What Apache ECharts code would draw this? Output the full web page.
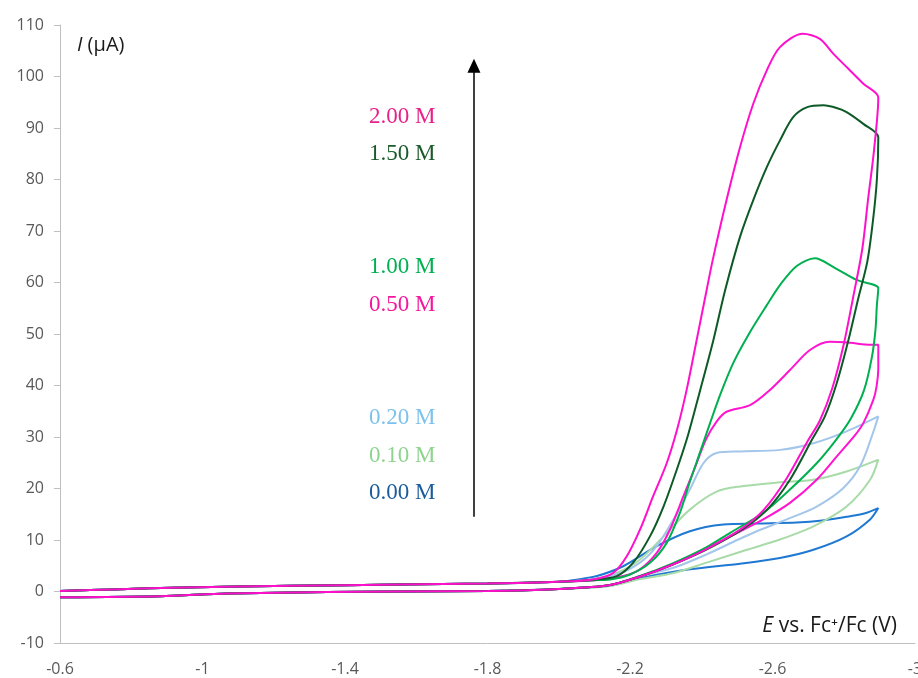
<!DOCTYPE html>
<html>
<head>
<meta charset="utf-8">
<script src="https://cdn.jsdelivr.net/npm/echarts@6/dist/echarts.min.js"></script>
<style>
  html, body { margin: 0; padding: 0; background: #ffffff; overflow: hidden; }
  #chart { width: 918px; height: 678px; }
</style>
</head>
<body>
<div id="chart"></div>
<script>
// Cyclic voltammograms at increasing concentration: potential E (V vs. Fc+/Fc), current I (µA)
const concentrations = ['0.00 M', '0.10 M', '0.20 M', '0.50 M', '1.00 M', '1.50 M', '2.00 M'];
const lineColors  = ['#1f78d2', '#a8dba8', '#a3c6ea', '#ff14cf', '#00b050', '#0d5a27', '#ff10cc'];
const labelColors = ['#1b5c9a', '#8fd38f', '#7cc2ec', '#f4169c', '#00b050', '#1b5a2b', '#e8208a'];

// Flat region shared by all scans (forward start, reverse end)
const sweepStart = [[-0.6, 0.1], [-0.75, 0.4], [-0.95, 0.8], [-1.25, 1.1], [-1.55, 1.35], [-1.8, 1.55], [-2.0, 1.9]];
const sweepEnd   = [[-2.0, 0.5], [-1.8, 0.1], [-1.55, 0.0], [-1.35, -0.1], [-1.07, -0.4], [-0.88, -0.9], [-0.6, -1.1]];

// 0.00 M
const fwd000 = [[-2.05, 2.3], [-2.107, 3.0], [-2.181, 4.9], [-2.275, 8.8], [-2.368, 11.7], [-2.462, 13.0], [-2.56, 13.2], [-2.668, 13.4], [-2.74, 13.8], [-2.808, 14.5], [-2.86, 15.2], [-2.897, 16.2]];
const rev000 = [[-2.874, 14.0], [-2.808, 10.7], [-2.715, 8.1], [-2.621, 6.5], [-2.509, 5.4], [-2.368, 4.3], [-2.228, 2.6], [-2.14, 1.1]];
// 0.10 M
const fwd010 = [[-2.08, 2.2], [-2.163, 3.6], [-2.228, 6.2], [-2.294, 10.7], [-2.368, 15.9], [-2.443, 19.4], [-2.509, 20.4], [-2.621, 21.2], [-2.715, 21.7], [-2.808, 23.3], [-2.897, 25.6]];
const rev010 = [[-2.874, 21.7], [-2.808, 16.5], [-2.715, 12.65], [-2.621, 10.1], [-2.528, 8.1], [-2.415, 5.6], [-2.322, 3.6], [-2.228, 2.4], [-2.14, 1.0]];
// 0.20 M
const fwd020 = [[-2.08, 2.3], [-2.163, 3.3], [-2.228, 5.6], [-2.275, 8.8], [-2.322, 14.0], [-2.368, 19.8], [-2.406, 24.9], [-2.443, 26.9], [-2.509, 27.2], [-2.621, 27.5], [-2.715, 28.8], [-2.808, 31.1], [-2.897, 34.0]];
const rev020 = [[-2.885, 31.4], [-2.848, 24.6], [-2.799, 20.1], [-2.724, 16.5], [-2.64, 14.0], [-2.556, 11.7], [-2.495, 9.8], [-2.415, 7.2], [-2.322, 4.6], [-2.228, 3.0], [-2.14, 1.2]];
// 0.50 M
const fwd050 = [[-2.1, 2.2], [-2.181, 3.0], [-2.228, 4.3], [-2.275, 7.5], [-2.312, 12.0], [-2.35, 18.5], [-2.387, 24.9], [-2.413, 29.5], [-2.443, 33.0], [-2.471, 34.9], [-2.537, 36.2], [-2.593, 39.15], [-2.649, 43.0], [-2.705, 46.9], [-2.761, 48.5], [-2.818, 48.3], [-2.874, 47.9], [-2.897, 47.9]];
const rev050 = [[-2.897, 43.5], [-2.892, 39.8], [-2.883, 37.2], [-2.855, 32.7], [-2.83, 30.2], [-2.78, 26.2], [-2.724, 21.7], [-2.649, 17.2], [-2.574, 14.0], [-2.481, 10.7], [-2.41, 8.1], [-2.318, 5.2], [-2.228, 2.9], [-2.14, 1.2]];
// 1.00 M
const fwd100 = [[-2.1, 2.2], [-2.144, 2.33], [-2.2, 3.3], [-2.256, 5.56], [-2.303, 9.44], [-2.34, 15.25], [-2.368, 21.3], [-2.397, 27.1], [-2.425, 32.75], [-2.453, 38.2], [-2.49, 44.4], [-2.537, 50.4], [-2.584, 55.6], [-2.621, 59.5], [-2.668, 63.2], [-2.719, 64.7], [-2.771, 63.0], [-2.836, 60.5], [-2.897, 58.9]];
const rev100 = [[-2.893, 55.6], [-2.889, 50.8], [-2.879, 45.5], [-2.857, 39.1], [-2.82, 33.6], [-2.78, 29.6], [-2.724, 24.9], [-2.649, 19.8], [-2.574, 15.3], [-2.481, 11.4], [-2.41, 8.4], [-2.318, 5.4], [-2.228, 3.0], [-2.14, 1.2]];
// 1.50 M
const fwd150 = [[-2.1, 2.3], [-2.163, 3.0], [-2.209, 5.6], [-2.256, 10.7], [-2.294, 16.5], [-2.331, 23.6], [-2.363, 30.4], [-2.397, 39.1], [-2.434, 48.8], [-2.467, 58.5], [-2.509, 68.9], [-2.546, 76.0], [-2.584, 82.4], [-2.621, 87.6], [-2.658, 92.1], [-2.696, 94.0], [-2.743, 94.4], [-2.78, 93.9], [-2.808, 93.1], [-2.855, 90.8], [-2.897, 88.2]];
const rev150 = [[-2.893, 80.0], [-2.882, 72.0], [-2.866, 64.0], [-2.841, 57.0], [-2.813, 48.8], [-2.78, 40.4], [-2.747, 34.0], [-2.711, 29.5], [-2.649, 21.7], [-2.585, 15.9], [-2.514, 12.0], [-2.413, 8.1], [-2.318, 5.2], [-2.228, 2.9], [-2.14, 1.2]];
// 2.00 M
const fwd200 = [[-2.1, 2.4], [-2.153, 3.62], [-2.191, 6.84], [-2.228, 12.0], [-2.265, 18.5], [-2.303, 24.9], [-2.332, 31.4], [-2.359, 39.15], [-2.387, 48.8], [-2.415, 58.5], [-2.432, 64.3], [-2.471, 76.0], [-2.509, 86.3], [-2.546, 94.7], [-2.584, 101.2], [-2.621, 105.7], [-2.685, 108.3], [-2.733, 107.3], [-2.771, 104.4], [-2.813, 101.5], [-2.855, 98.6], [-2.897, 95.9]];
const rev200 = [[-2.885, 85.7], [-2.868, 76.0], [-2.852, 66.5], [-2.826, 57.0], [-2.80, 48.0], [-2.768, 39.5], [-2.733, 33.2], [-2.697, 29.0], [-2.64, 22.0], [-2.576, 15.9], [-2.509, 12.0], [-2.41, 8.1], [-2.318, 5.2], [-2.228, 2.9], [-2.14, 1.2]];

const forwardScans = [fwd000, fwd010, fwd020, fwd050, fwd100, fwd150, fwd200];
const reverseScans = [rev000, rev010, rev020, rev050, rev100, rev150, rev200];

// Arrow showing the direction of increasing concentration
const arrowPotential = -1.762;
const arrowCurrent = [14.5, 102.1];

// Vertical placement of the concentration labels (pixels)
const labelY = [493, 456, 418, 305, 267, 154, 117];

const chart = echarts.init(document.getElementById('chart'), null, { renderer: 'canvas' });

const series = concentrations.map((name, i) => {
  const s = {
    name: name,
    type: 'line',
    data: sweepStart.concat(forwardScans[i], reverseScans[i], sweepEnd),
    showSymbol: false,
    smooth: 0.3,
    clip: false,
    lineStyle: { color: lineColors[i], width: 2 },
    itemStyle: { color: lineColors[i] },
    emphasis: { disabled: true },
    z: 2 + i
  };
  if (i === concentrations.length - 1) {
    s.markLine = {
      silent: true,
      symbol: ['none', 'triangle'],
      symbolSize: [13, 14],
      label: { show: false },
      lineStyle: { color: '#000000', width: 1.5, type: 'solid' },
      emphasis: { disabled: true },
      data: [[
        { coord: [arrowPotential, arrowCurrent[0]] },
        { coord: [arrowPotential, arrowCurrent[1]] }
      ]]
    };
  }
  return s;
});

const labelGraphics = concentrations.map((name, i) => ({
  type: 'text',
  x: 369,
  y: labelY[i],
  silent: true,
  style: {
    text: name,
    fill: labelColors[i],
    font: '23px "Liberation Serif", "DejaVu Serif", serif',
    verticalAlign: 'middle',
    align: 'left'
  }
}));

const option = {
  backgroundColor: '#ffffff',
  animation: false,
  grid: { left: 60, right: 3, top: 25, bottom: 35, containLabel: false, outerBoundsMode: 'none' },
  xAxis: {
    type: 'value',
    inverse: true,
    min: -3,
    max: -0.6,
    interval: 0.4,
    axisLine: { show: true, onZero: false, lineStyle: { color: '#bfbfbf', width: 1 } },
    axisTick: { show: false },
    splitLine: { show: false },
    axisLabel: {
      color: '#595959',
      fontSize: 16,
      fontFamily: '"Open Sans", "Noto Sans", sans-serif',
      margin: 18,
      formatter: v => String(Math.round(v * 10) / 10)
    }
  },
  yAxis: {
    type: 'value',
    min: -10,
    max: 110,
    interval: 10,
    axisLine: { show: true, onZero: false, lineStyle: { color: '#bfbfbf', width: 1 } },
    axisTick: { show: true, inside: false, length: 6, lineStyle: { color: '#bfbfbf' } },
    splitLine: { show: false },
    axisLabel: {
      color: '#595959',
      fontSize: 16,
      fontFamily: '"Open Sans", "Noto Sans", sans-serif',
      margin: 16
    }
  },
  series: series,
  graphic: labelGraphics.concat([
    {
      type: 'text',
      x: 77,
      y: 45,
      silent: true,
      style: {
        text: '{i|I} (µA)',
        fill: '#1a1a1a',
        font: '20px "Open Sans", "DejaVu Sans", sans-serif',
        verticalAlign: 'middle',
        rich: { i: { fontStyle: 'italic', fontSize: 20, fontFamily: '"Open Sans", sans-serif', fill: '#1a1a1a' } }
      }
    },
    {
      type: 'text',
      x: 897,
      y: 626,
      silent: true,
      style: {
        text: '{i|E} vs. Fc⁺/Fc (V)',
        fill: '#1a1a1a',
        align: 'right',
        font: '21px "Open Sans", "DejaVu Sans", sans-serif',
        verticalAlign: 'middle',
        rich: { i: { fontStyle: 'italic', fontSize: 21, fontFamily: '"Open Sans", sans-serif', fill: '#1a1a1a' } }
      }
    }
  ])
};

chart.setOption(option);
</script>
</body>
</html>
